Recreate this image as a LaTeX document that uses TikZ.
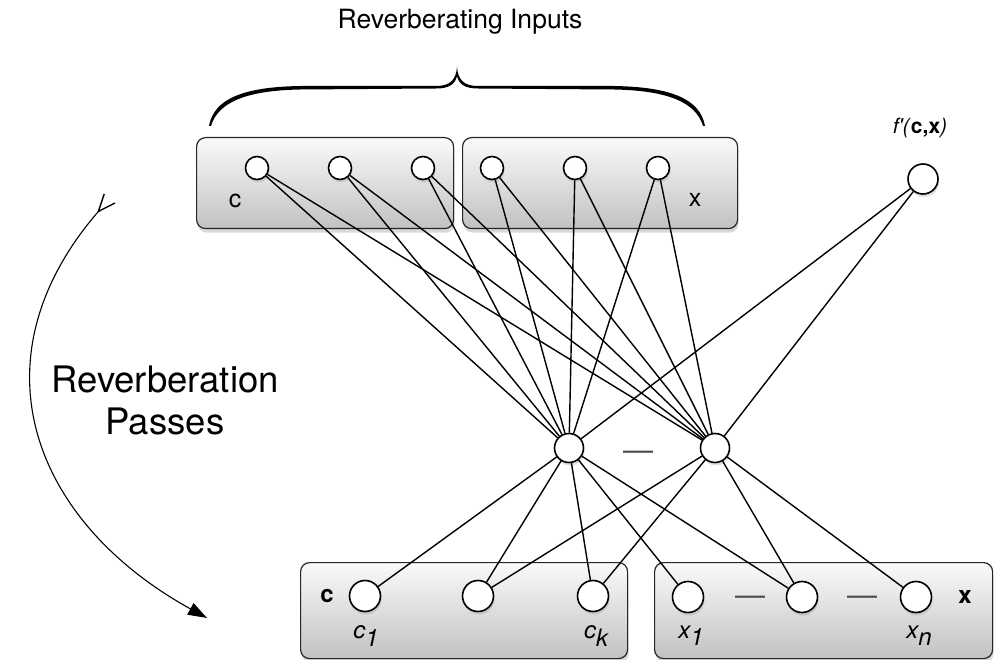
\documentclass[tikz,border=0pt]{standalone}
\usepackage{fontspec}
\setmainfont{TeX Gyre Heros}
\usetikzlibrary{shadows,arrows.meta}
\begin{document}
\begin{tikzpicture}[x=1pt,y=-1pt,
  grp/.style={draw=black!85, line width=1.2pt, rounded corners=9pt, top color=gray!4, bottom color=gray!48,
    inner sep=0pt, anchor=north west,
    drop shadow={opacity=0.3, shadow xshift=1pt, shadow yshift=-4pt}},
  unit/.style={circle, draw=black, fill=white, line width=1.6pt, inner sep=0pt,
    drop shadow={opacity=0.25, shadow xshift=1pt, shadow yshift=-3pt}},
  edge/.style={line width=1.4pt, black},
  lbl/.style={font=\fontsize{25}{28}\selectfont, inner sep=0pt},
  blbl/.style={font=\bfseries\fontsize{24}{28}\selectfont, inner sep=0pt},
  ilbl/.style={font=\itshape\fontsize{24}{28}\selectfont, inner sep=0pt},
  dashsym/.style={font=\fontsize{30}{34}\selectfont, text=black!70, inner sep=0pt},
  arcline/.style={line width=1.1pt, black}
]
\useasboundingbox (0,0) rectangle (994,660);

% group boxes
\node[grp, minimum width=257pt, minimum height=91pt] (tc) at (196,137) {};
\node[grp, minimum width=275pt, minimum height=91pt] (tx) at (462,137) {};
\node[grp, minimum width=327pt, minimum height=96pt] (bc) at (300,562) {};
\node[grp, minimum width=338pt, minimum height=96pt] (bx) at (654,562) {};

% top units
\node[unit, minimum size=23pt] (t1) at (257,168) {};
\node[unit, minimum size=23pt] (t2) at (340,168) {};
\node[unit, minimum size=23pt] (t3) at (423,168) {};
\node[unit, minimum size=23pt] (t4) at (492,168) {};
\node[unit, minimum size=23pt] (t5) at (575,168) {};
\node[unit, minimum size=23pt] (t6) at (658,168) {};
\node[unit, minimum size=30pt] (f) at (923,179) {};

% hidden units
\node[unit, minimum size=29pt] (h1) at (569,448) {};
\node[unit, minimum size=29pt] (h2) at (715,448) {};

% bottom units
\node[unit, minimum size=31pt] (b1) at (365,596) {};
\node[unit, minimum size=31pt] (b2) at (478,596) {};
\node[unit, minimum size=31pt] (b3) at (593,596) {};
\node[unit, minimum size=31pt] (b4) at (688,597) {};
\node[unit, minimum size=31pt] (b5) at (802,597) {};
\node[unit, minimum size=31pt] (b6) at (916,597) {};

% edges
\foreach \t in {t1,t2,t3,t4,t5,t6,f}{
  \draw[edge] (\t) -- (h1);
  \draw[edge] (\t) -- (h2);
}
\foreach \b in {b1,b2,b3,b4,b5}{ \draw[edge] (h1) -- (\b); }
\foreach \b in {b2,b3,b5,b6}{ \draw[edge] (h2) -- (\b); }

% labels
\node[font=\fontsize{26.5}{30}\selectfont] (title) at (460,22) {Reverberating Inputs};
\node[lbl] (lc) at (235,201) {c};
\node[lbl] (lx) at (695,200) {x};
\node[blbl] (blc) at (327,596) {c};
\node[blbl] (blx) at (965,597) {x};
\node[ilbl] (lc1) at (366,636) {c\raisebox{-0.3em}{1}};
\node[ilbl] (lck) at (596,636) {c\raisebox{-0.3em}{k}};
\node[ilbl] (lx1) at (691,636) {x\raisebox{-0.3em}{1}};
\node[ilbl] (lxn) at (919,636) {x\raisebox{-0.3em}{n}};
\node[font=\fontsize{21}{25}\selectfont, inner sep=0pt] (lf) at (920,128) {\textit{f\textquotesingle(}\textbf{c,x}\textit{)}};
\node[align=center, font=\fontsize{36.5}{42}\selectfont] (rp) at (165,400) {Reverberation\\Passes};

% ellipsis dashes
\node[dashsym] (d1) at (638,456) {—};
\node[dashsym] (d2) at (750,601) {—};
\node[dashsym] (d3) at (862,601) {—};

% brace
\fill[black] (209,126) .. controls (214,98) and (245,87) .. (300,86) -- (436,86)
  .. controls (450,86) and (456,80) .. (457,67)
  .. controls (458,80) and (464,86) .. (478,86) -- (614,86)
  .. controls (669,87) and (700,98) .. (705,126)
  -- (703,126) .. controls (696,102) and (667,90.5) .. (614,89.5) -- (478,88.5)
  .. controls (466,88.5) and (459,85) .. (457,76)
  .. controls (455,85) and (448,88.5) .. (436,88.5) -- (300,89.5)
  .. controls (247,90.5) and (218,102) .. (211,126) -- cycle;

% reverberation arc
\coordinate (arcS) at (110,198);
\coordinate (arcE) at (207,618);
\draw[arcline, {Straight Barb[reversed,length=17pt,width=14pt,line width=1.4pt]}-{Triangle[length=19pt,width=13pt]}]
  (arcS) .. controls (-30,360) and (33,522) .. (arcE);
\end{tikzpicture}
\end{document}
